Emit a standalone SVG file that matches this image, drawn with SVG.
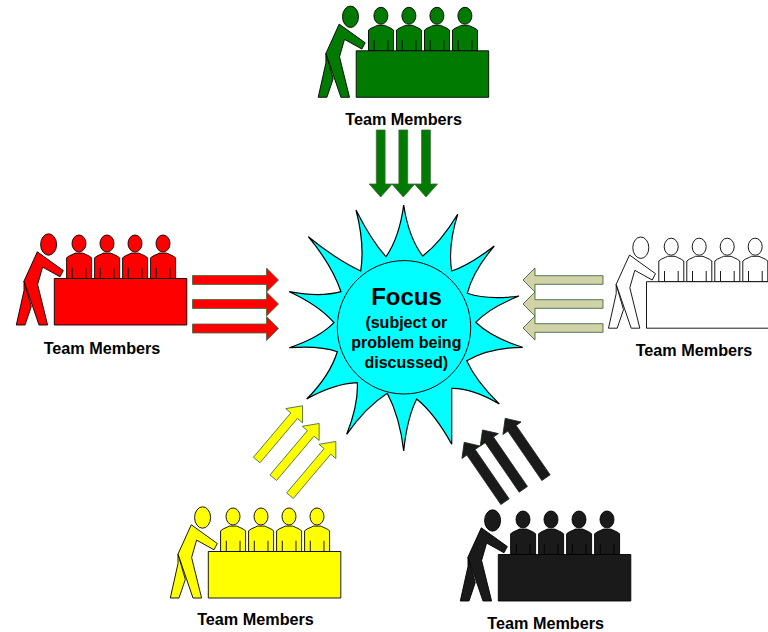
<svg xmlns="http://www.w3.org/2000/svg" xmlns:xlink="http://www.w3.org/1999/xlink" width="768" height="632" viewBox="0 0 768 632">
<style>
text{font-family:"Liberation Sans",Arial,sans-serif;font-weight:bold;fill:#000;text-anchor:middle}
.lbl{font-size:16.2px}
.p{stroke:#000;stroke-width:.9;stroke-linejoin:round}
.w{fill:#fff}.g{fill:#007a00}.r{fill:#f00}.y{fill:#ff0}.k{fill:#1a1a1a}
.a{stroke-width:.8;stroke-linejoin:miter}
.ag{fill:#007a00;stroke:#3d6a3d}.ar{fill:#f00;stroke:#3d6a3d}.aw{fill:#d2d2a8;stroke:#2d5a2d}.ay{fill:#ff0;stroke:#3d6a3d}.ak{fill:#1a1a1a;stroke:#1a2a1a}
</style>
<defs>
<g id="seat">
<path d="M12.3-20.7 Q14-22.5 19-24.4 L21-25.4 H28.5 L30.7-24.4 Q35.5-22.5 37.3-20.7 V0 H12.3Z M18 0V-10.7 M31.7 0V-10.7"/>
<ellipse cx="24.7" cy="-35" rx="7" ry="8.5"/>
</g>
<g id="team" class="p">
<use href="#seat" xlink:href="#seat"/>
<use href="#seat" xlink:href="#seat" x="28"/>
<use href="#seat" xlink:href="#seat" x="56"/>
<use href="#seat" xlink:href="#seat" x="84"/>
<rect x="0" y="0" width="132.5" height="46.5"/>
<ellipse cx="-5.7" cy="-34" rx="8" ry="10.7"/>
<path d="M-30.3 2.6 V12 L-38 46.5 H-29.3 L-23 28 Z"/>
<path d="M-17 -26.7 L9 -8 L5.7 -1.7 L-11.7 -11.4 L-16.7 6 L-6.7 46.5 H-15.3 L-30.3 2.6 Z"/>
</g>
<path id="a67" d="M0-4.4H54V-11.5L67 0 54 11.5V4.4H0Z"/>
<path id="a86" d="M0-4.5H74V-12L86 0 74 12V4.5H0Z"/>
<path id="a80" d="M0-4.3H68V-12L80 0 68 12V4.3H0Z"/>
<path id="a71" d="M0-4.3H58V-11L71 0 58 11V4.3H0Z"/>
<path id="a72" d="M0-5H60V-11L72 0 60 11V5H0Z"/>
</defs>
<g id="connectors" class="a">
<g class="ag">
<use href="#a67" xlink:href="#a67" transform="translate(380.7 130) rotate(90)"/>
<use href="#a67" xlink:href="#a67" transform="translate(403.3 130) rotate(90)"/>
<use href="#a67" xlink:href="#a67" transform="translate(426 130) rotate(90)"/>
</g>
<g class="ar">
<use href="#a86" xlink:href="#a86" transform="translate(192.5 280)"/>
<use href="#a86" xlink:href="#a86" transform="translate(192.5 304)"/>
<use href="#a86" xlink:href="#a86" transform="translate(192.5 328.5)"/>
</g>
<g class="aw">
<use href="#a80" xlink:href="#a80" transform="translate(603 280) rotate(180)"/>
<use href="#a80" xlink:href="#a80" transform="translate(603 304) rotate(180)"/>
<use href="#a80" xlink:href="#a80" transform="translate(603 328) rotate(180)"/>
</g>
<g class="ay">
<use href="#a71" xlink:href="#a71" transform="translate(256.7 460) rotate(-49.8)"/>
<use href="#a71" xlink:href="#a71" transform="translate(273.3 477.7) rotate(-49.8)"/>
<use href="#a71" xlink:href="#a71" transform="translate(290 495.7) rotate(-49.8)"/>
</g>
<g class="ak">
<use href="#a72" xlink:href="#a72" transform="translate(505 501.7) rotate(-124.5)"/>
<use href="#a72" xlink:href="#a72" transform="translate(523.3 489.3) rotate(-124.5)"/>
<use href="#a72" xlink:href="#a72" transform="translate(546 477.7) rotate(-124.5)"/>
</g>
</g>
<g id="focus">
<path fill="#0ff" stroke="#000" stroke-width="1.2" stroke-linejoin="miter" d="M403.7 205Q408.5 237.3 422.7 256Q440.4 242.8 457.7 214.3Q447.6 246.6 451.7 271Q469.2 265.3 494.3 246Q473.1 270.8 467.3 293.3Q487.7 300.3 519 296Q489.8 307.6 475.7 322.3Q492 337.9 522.7 347.3Q489.7 347.5 466.7 360.7Q475.9 380.9 499.3 404Q472.2 387.9 451.7 388.3Q451.7 416 451.7 444.3Q435.3 414.3 416.7 399Q407 418.2 403.7 451Q399.7 416.8 387.3 393.3Q366 406.9 346.7 434.3Q358.5 404.3 357.3 382.7Q334.9 383.4 306.7 399Q329.9 375.7 337.3 351.7Q319.7 345.5 289.3 347.7Q318.8 338.2 334 322.7Q318.8 305.2 289.3 291.7Q320.6 297.4 341 291.7Q331.8 265 308.3 236.7Q336.7 259.8 360.7 271Q364.9 244 356 210Q371.2 240.4 386 256.7Q399.3 237.5 403.7 205Z"/>
<circle cx="404" cy="327.3" r="66.7" fill="#0ff" stroke="#000" stroke-width="1"/>
<text x="406.5" y="305" font-size="24">Focus</text>
<text x="406.3" y="327.7" font-size="16">(subject or</text>
<text x="406.3" y="348.3" font-size="16">problem being</text>
<text x="406.3" y="368.3" font-size="16">discussed)</text>
</g>
<g id="team-green" class="g"><use href="#team" xlink:href="#team" x="356.2" y="50.8"/><text class="lbl" x="403.6" y="125">Team Members</text></g>
<g id="team-red" class="r"><use href="#team" xlink:href="#team" x="54.3" y="278.5"/><text class="lbl" x="102" y="353.5">Team Members</text></g>
<g id="team-white" class="w"><use href="#team" xlink:href="#team" x="646.5" y="281.7"/><text class="lbl" x="694" y="355.5">Team Members</text></g>
<g id="team-yellow" class="y"><use href="#team" xlink:href="#team" x="208.3" y="551.5"/><text class="lbl" x="255.5" y="624.5">Team Members</text></g>
<g id="team-black" class="k"><use href="#team" xlink:href="#team" x="498.3" y="554.5"/><text class="lbl" x="545.7" y="628.5">Team Members</text></g>
</svg>
